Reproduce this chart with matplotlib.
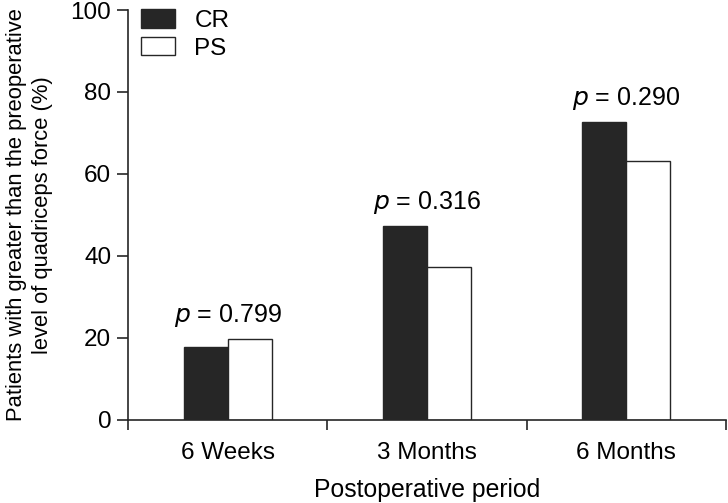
import numpy as np
from matplotlib import pyplot as plt

plt.rcParams['font.family'] = ['Liberation Sans', 'DejaVu Sans']

periods = ['6 Weeks', '3 Months', '6 Months']
cr = [17.7, 47.3, 72.6]
ps = [19.7, 37.4, 63.2]
p_values = ['0.799', '0.316', '0.290']

fig = plt.figure(figsize=(7.28, 5.03), dpi=100)
ax = fig.add_axes([128 / 728, 1 - 420 / 503, 598 / 728, 410 / 503])

x = np.arange(len(periods)) + 0.5
w = 0.22
ax.bar(x - w / 2, cr, w, color='#262626', edgecolor='#262626', linewidth=1.0, label='CR')
ax.bar(x + w / 2, ps, w, color='white', edgecolor='#262626', linewidth=1.0, label='PS')

for xi, a, b, p in zip(x, cr, ps, p_values):
    ax.text(xi, max(a, b) + 5.8, r'$\it{p}$ = ' + p, ha='center', va='center', fontsize=18)

ax.set_xlim(0, 3)
ax.set_ylim(0, 100)
ax.set_yticks([0, 20, 40, 60, 80, 100])
ax.set_xticks([0, 1, 2, 3])
ax.set_xticklabels([])
ax.set_xticks(x, minor=True)
ax.set_xticklabels(periods, minor=True)
ax.tick_params(axis='x', which='minor', length=0, pad=16, labelsize=17.5)
ax.tick_params(axis='x', which='major', length=7, width=1.2, color='#262626')
ax.tick_params(axis='y', length=8, width=1.2, color='#262626', labelsize=17.5, pad=4)
for s in ['top', 'right']:
    ax.spines[s].set_visible(False)
for s in ['left', 'bottom']:
    ax.spines[s].set_linewidth(1.2)
    ax.spines[s].set_color('#262626')

ax.set_xlabel('Postoperative period', fontsize=17.8, labelpad=10)
ax.set_ylabel('Patients with greater than the preoperative\nlevel of quadriceps force (%)',
              fontsize=15.8, linespacing=1.27, labelpad=13)

ax.legend(loc='upper left', bbox_to_anchor=(13 / 598, 1.002), frameon=False, fontsize=17.5,
          borderpad=0, borderaxespad=0,
          handlelength=1.4, handleheight=0.8, handletextpad=0.8, labelspacing=0.2)

plt.savefig('out.png')
